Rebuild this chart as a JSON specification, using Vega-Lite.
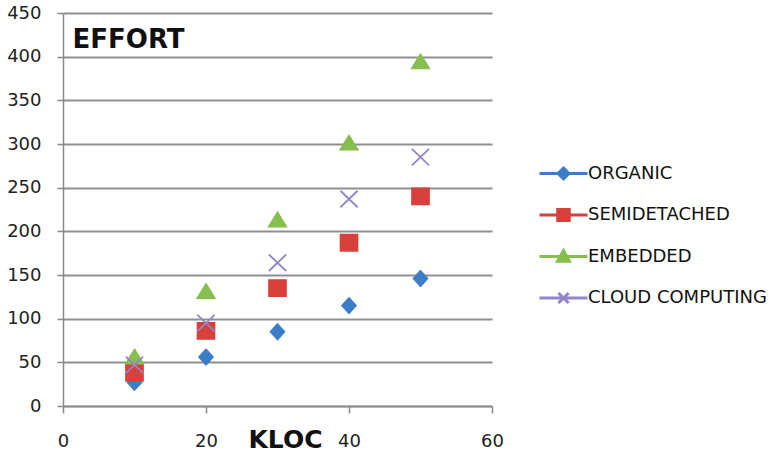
{
  "$schema": "https://vega.github.io/schema/vega-lite/v6.json",
  "width": 429,
  "height": 393,
  "autosize": "none",
  "padding": {"left": 63, "top": 13, "right": 283, "bottom": 52},
  "background": "white",
  "data": {
    "values": [
      {"kloc": 10, "effort": 27, "series": "ORGANIC"},
      {"kloc": 20, "effort": 56, "series": "ORGANIC"},
      {"kloc": 30, "effort": 85, "series": "ORGANIC"},
      {"kloc": 40, "effort": 115, "series": "ORGANIC"},
      {"kloc": 50, "effort": 146, "series": "ORGANIC"},
      {"kloc": 10, "effort": 38, "series": "SEMIDETACHED"},
      {"kloc": 20, "effort": 86, "series": "SEMIDETACHED"},
      {"kloc": 30, "effort": 135, "series": "SEMIDETACHED"},
      {"kloc": 40, "effort": 187, "series": "SEMIDETACHED"},
      {"kloc": 50, "effort": 240, "series": "SEMIDETACHED"},
      {"kloc": 10, "effort": 56, "series": "EMBEDDED"},
      {"kloc": 20, "effort": 131, "series": "EMBEDDED"},
      {"kloc": 30, "effort": 213, "series": "EMBEDDED"},
      {"kloc": 40, "effort": 301, "series": "EMBEDDED"},
      {"kloc": 50, "effort": 394, "series": "EMBEDDED"},
      {"kloc": 10, "effort": 47, "series": "CLOUD COMPUTING"},
      {"kloc": 20, "effort": 95, "series": "CLOUD COMPUTING"},
      {"kloc": 30, "effort": 164, "series": "CLOUD COMPUTING"},
      {"kloc": 40, "effort": 237, "series": "CLOUD COMPUTING"},
      {"kloc": 50, "effort": 285, "series": "CLOUD COMPUTING"}
    ]
  },
  "encoding": {
    "x": {
      "field": "kloc", "type": "quantitative",
      "scale": {"domain": [0, 60], "nice": false},
      "axis": {
        "values": [0, 20, 40, 60], "grid": false, "labelFlush": false,
        "domainColor": "#8a8a8a", "domainWidth": 1.5,
        "tickColor": "#8a8a8a", "tickWidth": 1.5, "tickSize": 7,
        "labelFont": "DejaVu Sans", "labelFontSize": 18, "labelColor": "#222",
        "labelPadding": 19,
        "title": "KLOC", "titleFont": "DejaVu Sans", "titleFontSize": 25, "titleFontWeight": "bold",
        "titleColor": "#111", "titleX": 222, "titleY": 41, "titleAlign": "center", "titleBaseline": "alphabetic"
      }
    },
    "y": {
      "field": "effort", "type": "quantitative",
      "scale": {"domain": [0, 450], "nice": false},
      "axis": {
        "values": [0, 50, 100, 150, 200, 250, 300, 350, 400, 450],
        "grid": true, "gridColor": "#8f8f8f", "gridWidth": 1.8,
        "domainColor": "#8a8a8a", "domainWidth": 1.5,
        "tickColor": "#8a8a8a", "tickWidth": 1.5, "tickSize": 6,
        "labelFont": "DejaVu Sans", "labelFontSize": 18, "labelColor": "#222",
        "labelPadding": 16,
        "title": "EFFORT", "titleFont": "DejaVu Sans", "titleFontSize": 26, "titleFontWeight": "bold",
        "titleColor": "#111", "titleAngle": 0, "titleX": 9, "titleY": 34, "titleAlign": "left", "titleBaseline": "alphabetic"
      }
    },
    "fill": {
      "field": "series", "type": "nominal",
      "scale": {"domain": ["ORGANIC", "SEMIDETACHED", "EMBEDDED", "CLOUD COMPUTING"], "range": ["#3b7dc8", "#d8403c", "#86bf4e", "#9484c8"]},
      "legend": {"title": null}
    },
    "stroke": {
      "field": "series", "type": "nominal",
      "scale": {"domain": ["ORGANIC", "SEMIDETACHED", "EMBEDDED", "CLOUD COMPUTING"], "range": ["#3b7dc8", "#d8403c", "#86bf4e", "#9484c8"]},
      "legend": {"title": null}
    }
  },
  "layer": [
    {
      "mark": {"type": "point", "filled": true, "size": 0, "strokeWidth": 0, "opacity": 1},
      "encoding": {
        "shape": {
          "field": "series", "type": "nominal",
          "scale": {"domain": ["ORGANIC", "SEMIDETACHED", "EMBEDDED", "CLOUD COMPUTING"], "range": ["M-2,0H2M0,-0.45L0.45,0L0,0.45L-0.45,0Z", "M-2,0H2M-0.48,-0.45H0.48V0.45H-0.48Z", "M-2,0H2M0,-0.5L0.5,0.4L-0.5,0.4Z", "M-2,0H2M-0.42,-0.42L0.42,0.42M-0.42,0.42L0.42,-0.42"]},
          "legend": {"title": null}
        }
      }
    },
    {
      "transform": [{"filter": "datum.series === 'ORGANIC'"}],
      "mark": {"type": "point", "filled": true, "size": 225, "strokeWidth": 1.4, "opacity": 1, "shape": "M0,-1.05L0.95,0L0,1.05L-0.95,0Z"}
    },
    {
      "transform": [{"filter": "datum.series === 'SEMIDETACHED'"}],
      "mark": {"type": "point", "filled": true, "size": 225, "strokeWidth": 1.4, "opacity": 1, "shape": "M-1.15,-1.1H1.15V1.1H-1.15Z"}
    },
    {
      "transform": [{"filter": "datum.series === 'EMBEDDED'"}],
      "mark": {"type": "point", "filled": true, "size": 225, "strokeWidth": 1.4, "opacity": 1, "shape": "M0,-1.05L1.2,0.9L-1.2,0.9Z"}
    },
    {
      "transform": [{"filter": "datum.series === 'CLOUD COMPUTING'"}],
      "mark": {"type": "point", "filled": true, "size": 225, "strokeWidth": 1.8, "opacity": 1, "shape": "M-1.15,-1.1L1.15,1.1M-1.15,1.1L1.15,-1.1"}
    }
  ],
  "config": {
    "view": {"stroke": null},
    "legend": {
      "orient": "none", "legendX": 487, "legendY": 147,
      "symbolSize": 576, "symbolStrokeWidth": 3, "rowPadding": 16.5, "labelOffset": 11, "labelLimit": 400,
      "labelFont": "DejaVu Sans", "labelFontSize": 18, "labelColor": "#111"
    }
  }
}
